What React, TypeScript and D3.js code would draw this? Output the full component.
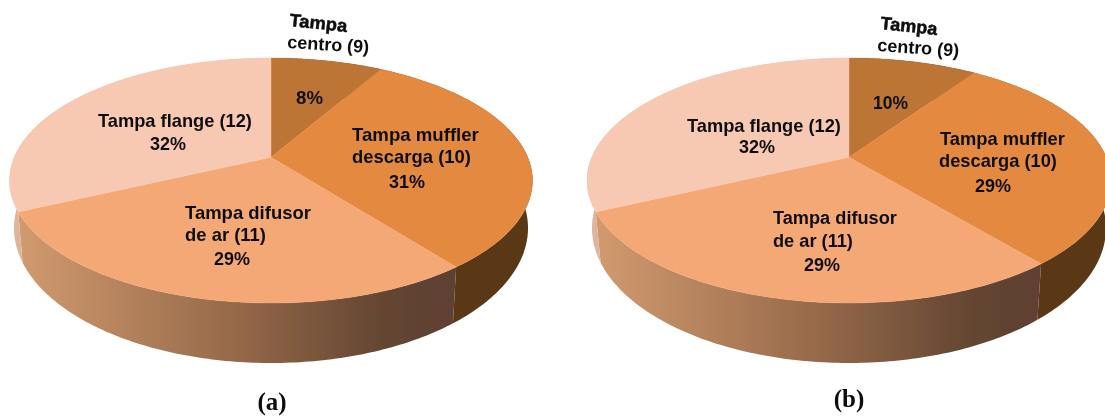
import React from "react";
import * as d3 from "d3";

// ---- data ----
const sliceNames = ["Tampa centro (9)", "Tampa muffler descarga (10)", "Tampa difusor de ar (11)", "Tampa flange (12)"];
const valuesA = [8.3, 31.2, 28.5, 32];
const valuesB = [9.5, 29.5, 29, 32];
const captions = ["(a)", "(b)"];

// ---- styling ----
const topColors = ["#bd7534", "#e48a41", "#f4a876", "#f7c9b3"];
const wallColors = ["#5a3719", "#5a3719", "url(#G)", "#dfb49c"];
const APEX = 0.19; // perspective shift of the pie centre inside its rim ellipse
const FONT = 18;

type Lbl = { t: string; x: number; y: number; w: number; rot?: number; weight?: number };

const labelsA: Lbl[] = [
  { t: "Tampa", x: 289, y: 26, w: 58, rot: 6, weight: 900 },
  { t: "centro (9)", x: 287, y: 48, w: 82, rot: 3.5 },
  { t: "8%", x: 296, y: 104, w: 27 },
  { t: "Tampa flange (12)", x: 98, y: 127, w: 154 },
  { t: "32%", x: 150, y: 149.5, w: 36 },
  { t: "Tampa muffler", x: 352, y: 140.5, w: 127 },
  { t: "descarga (10)", x: 352, y: 162.5, w: 119 },
  { t: "31%", x: 389, y: 187.5, w: 36 },
  { t: "Tampa difusor", x: 185, y: 218.5, w: 126 },
  { t: "de ar (11)", x: 185, y: 241, w: 81 },
  { t: "29%", x: 214, y: 265, w: 36 },
];
const labelsB: Lbl[] = [
  { t: "Tampa", x: 880, y: 29, w: 57, rot: 6, weight: 900 },
  { t: "centro (9)", x: 877, y: 51, w: 82, rot: 4 },
  { t: "10%", x: 873, y: 109, w: 35 },
  { t: "Tampa flange (12)", x: 687, y: 132, w: 154 },
  { t: "32%", x: 739, y: 153, w: 36 },
  { t: "Tampa muffler", x: 940, y: 144.5, w: 125 },
  { t: "descarga (10)", x: 939, y: 167, w: 118 },
  { t: "29%", x: 975, y: 192, w: 36 },
  { t: "Tampa difusor", x: 773, y: 224, w: 124 },
  { t: "de ar (11)", x: 773, y: 247, w: 80 },
  { t: "29%", x: 804, y: 271, w: 36 },
];

type Disc = { cx: number; cy: number; rx: number; ry: number };

function rim(d: Disc, theta: number): [number, number] {
  const u = Math.sin(theta);
  const v = Math.cos(theta);
  const den = 1 + APEX * v;
  const up = (u * Math.sqrt(1 - APEX * APEX)) / den;
  const vp = (v + APEX) / den;
  const sx = d3.scaleLinear().domain([-1, 1]).range([d.cx - d.rx, d.cx + d.rx]);
  const sy = d3.scaleLinear().domain([-1, 1]).range([d.cy + d.ry, d.cy - d.ry]);
  return [sx(up), sy(vp)];
}

const line = d3.line<[number, number]>();

function Pie3D({ values, id, top, bottom, grad }: { values: number[]; id: string; top: Disc; bottom: Disc; grad: [number, number] }) {
  const arcs = d3.pie<number>().sort(null).value((v) => v)(values);
  const apex: [number, number] = [top.cx, top.cy - top.ry * APEX];
  const samples = (a: d3.PieArcDatum<number>) => d3.range(0, 121).map((i) => a.startAngle + ((a.endAngle - a.startAngle) * i) / 120);
  return (
    <g>
      <defs>
        <linearGradient id={id} gradientUnits="userSpaceOnUse" x1={grad[0]} x2={grad[1]} y1={0} y2={0}>
          <stop offset="0" stopColor="#d19a6e" />
          <stop offset="0.5" stopColor="#96694a" />
          <stop offset="0.85" stopColor="#634532" />
          <stop offset="1" stopColor="#5e4130" />
        </linearGradient>
      </defs>
      {arcs.map((a, i) => {
        const th = samples(a);
        const pts = [...th.map((t) => rim(top, t)), ...th.slice().reverse().map((t) => rim(bottom, t))];
        return <path key={i} d={line(pts) + "Z"} fill={wallColors[i] === "url(#G)" ? `url(#${id})` : wallColors[i]} />;
      })}
      {arcs.map((a, i) => (
        <path key={i} d={line([apex, ...samples(a).map((t) => rim(top, t))]) + "Z"} fill={topColors[i]} stroke={topColors[i]} strokeWidth={0.4} />
      ))}
    </g>
  );
}

function Texts({ items }: { items: Lbl[] }) {
  const ctx = typeof document !== "undefined" ? document.createElement("canvas").getContext("2d") : null;
  return (
    <g fontFamily="'Liberation Sans', Arial, sans-serif" fill="#111">
      {items.map((l, i) => {
        const fw = l.weight ?? 700;
        let sx = 1;
        if (ctx) {
          ctx.font = `700 ${FONT}px 'Liberation Sans'`;
          sx = l.w / ctx.measureText(l.t).width;
        }
        return (
          <text key={i} fontSize={FONT} fontWeight={700} stroke={fw > 700 ? "#111" : "none"} strokeWidth={0.5}
            transform={`translate(${l.x},${l.y}) rotate(${l.rot ?? 0}) scale(${sx},1)`}>
            {l.t}
          </text>
        );
      })}
    </g>
  );
}

export default function App() {
  const topA: Disc = { cx: 271, cy: 180.5, rx: 261.5, ry: 122.5 };
  const botA: Disc = { cx: 271, cy: 228, rx: 257, ry: 135 };
  const topB: Disc = { cx: 849, cy: 180.5, rx: 262, ry: 122.5 };
  const botB: Disc = { cx: 849, cy: 228, rx: 257, ry: 135 };
  return (
    <svg width={1105} height={416} style={{ position: "absolute", left: 0, top: 0, display: "block", background: "#fff" }}>
      <title>{sliceNames.join(", ")}</title>
      <defs>
        <filter id="soft" x="-2%" y="-2%" width="104%" height="104%">
          <feGaussianBlur stdDeviation="0.45" />
        </filter>
      </defs>
      <g filter="url(#soft)">
        <Pie3D values={valuesA} id="gradA" top={topA} bottom={botA} grad={[20, 450]} />
        <Pie3D values={valuesB} id="gradB" top={topB} bottom={botB} grad={[598, 1040]} />
        <Texts items={labelsA} />
        <Texts items={labelsB} />
        <g fontFamily="'Liberation Serif', 'Times New Roman', serif" fontWeight={700} fontSize={25} fill="#111" textAnchor="middle">
          <text x={272} y={409.5}>{captions[0]}</text>
          <text x={849} y={407}>{captions[1]}</text>
        </g>
      </g>
    </svg>
  );
}
